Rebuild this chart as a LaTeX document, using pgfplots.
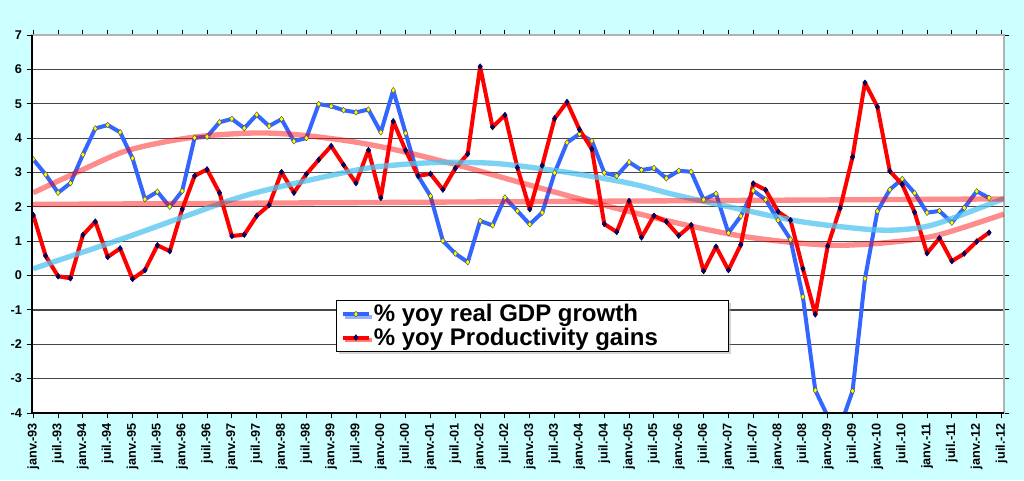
\documentclass[border=0pt]{standalone}
\usepackage{fontspec}
\setmainfont{Liberation Sans}
\usepackage{pgfplots}
\usepackage{pgfplotstable}
\pgfplotsset{compat=1.18}
\usetikzlibrary{shadows}
\definecolor{bgc}{RGB}{204,255,255}
\definecolor{gdpblue}{RGB}{51,102,255}
\definecolor{mkyellow}{RGB}{255,255,0}
\definecolor{mknavy}{RGB}{0,0,150}
\definecolor{trcyan}{RGB}{80,195,240}
\definecolor{gridc}{RGB}{70,70,70}

\pgfplotstableread{
x gdp prod
0 3.38 1.76
1 2.94 0.57
2 2.41 -0.02
3 2.69 -0.08
4 3.52 1.18
5 4.28 1.57
6 4.38 0.54
7 4.17 0.79
8 3.41 -0.10
9 2.22 0.16
10 2.44 0.88
11 2.00 0.71
12 2.46 1.93
13 4.01 2.90
14 4.04 3.09
15 4.46 2.41
16 4.56 1.15
17 4.29 1.19
18 4.68 1.74
19 4.35 2.05
20 4.55 3.01
21 3.91 2.41
22 4.00 2.95
23 4.99 3.37
24 4.93 3.77
25 4.81 3.22
26 4.75 2.69
27 4.83 3.65
28 4.17 2.26
29 5.39 4.49
30 4.14 3.64
31 2.90 2.90
32 2.31 2.96
33 1.01 2.50
34 0.64 3.12
35 0.39 3.54
36 1.59 6.08
37 1.46 4.32
38 2.27 4.67
39 1.88 3.14
40 1.49 1.93
41 1.83 3.20
42 2.99 4.57
43 3.87 5.05
44 4.12 4.25
45 3.92 3.68
46 2.99 1.50
47 2.90 1.27
48 3.30 2.17
49 3.07 1.11
50 3.13 1.74
51 2.83 1.57
52 3.05 1.16
53 3.02 1.47
54 2.21 0.13
55 2.38 0.84
56 1.24 0.16
57 1.73 0.90
58 2.47 2.68
59 2.21 2.49
60 1.61 1.86
61 1.05 1.61
62 -0.62 0.20
63 -3.34 -1.13
64 -4.10 0.86
65 -4.40 1.96
66 -3.36 3.45
67 -0.09 5.61
68 1.87 4.91
69 2.50 3.04
70 2.81 2.65
71 2.40 1.84
72 1.83 0.65
73 1.88 1.09
74 1.54 0.42
75 1.97 0.64
76 2.45 0.99
77 2.26 1.25
}\datatable

\pgfplotstableread{
x y
0 2.41
3.5 3.00
7.25 3.60
10.75 3.90
14 4.07
18.1 4.15
21.5 4.09
25.5 3.91
29.3 3.65
34.65 3.17
40 2.63
45.4 2.10
52.1 1.51
56.7 1.17
60.7 0.98
64.7 0.88
68.8 0.96
72.8 1.17
78.2 1.79
}\redtrend

\pgfplotstableread{
x y
0 0.20
7.1 1.06
12.2 1.72
17.6 2.38
25.9 3.06
29.3 3.22
32.8 3.29
37.3 3.26
42.7 3.02
48.1 2.68
51.7 2.35
56.7 1.95
62 1.56
67.4 1.34
70.1 1.34
72.8 1.51
78.2 2.24
}\cyantrend

\pgfplotstableread{
x y
0 2.07
78.2 2.23
}\flattrend

\begin{document}
\begin{tikzpicture}
\fill[bgc] (-24pt,-50.25pt) rectangle (744pt,309.75pt);
\begin{axis}[
  scale only axis, width=729pt, height=283.5pt,
  xmin=-0.1, xmax=78.2, ymin=-4, ymax=7,
  axis background/.style={fill=white},
  xtick={0,2,...,78},
  xticklabels={janv.-93,juil.-93,janv.-94,juil.-94,janv.-95,juil.-95,janv.-96,juil.-96,janv.-97,juil.-97,janv.-98,juil.-98,janv.-99,juil.-99,janv.-00,juil.-00,janv.-01,juil.-01,janv.-02,juil.-02,janv.-03,juil.-03,janv.-04,juil.-04,janv.-05,juil.-05,janv.-06,juil.-06,janv.-07,juil.-07,janv.-08,juil.-08,janv.-09,juil.-09,janv.-10,juil.-10,janv.-11,juil.-11,janv.-12,juil.-12},
  ytick={-4,-3,...,7},
  yticklabels={-4,-3,-2,-1,0,1,2,3,4,5,6,7},
  ymajorgrids, grid style={gridc, line width=0.9pt},
  axis line style={gray!60, line width=0.8pt},
  tick style={black, line width=0.75pt},
  tick align=outside, major tick length=4pt,
  x tick label style={rotate=90, anchor=east, font=\fontsize{9.5}{11}\selectfont\bfseries},
  y tick label style={font=\fontsize{9.5}{11}\selectfont\bfseries},
  legend style={at={(0.3128,0.162)}, anchor=south west, draw=black, line width=0.8pt,
    fill=white, font=\fontsize{18}{19}\selectfont\bfseries, inner xsep=3pt, inner ysep=1pt,
    row sep=-1pt, drop shadow={shadow xshift=2pt, shadow yshift=-2pt, fill=gray!70}},
  legend cell align=left,
  legend image code/.code={\draw[#1, mark repeat=2, mark phase=2] plot coordinates {(0pt,0pt) (10pt,0pt) (20pt,0pt)};},
  after end axis/.code={\draw[black, line width=0.8pt] (rel axis cs:0,1) -- (rel axis cs:0,0) -- (rel axis cs:1,0);},
]
\addplot[gdpblue, line width=3pt, line join=round, mark=diamond*, mark size=2.2pt,
  mark options={fill=mkyellow, draw=black!70, line width=0.3pt}] table[x=x, y=gdp] {\datatable};
\addlegendentry{\% yoy real GDP growth}
\addplot[red, line width=3pt, line join=round, mark=diamond*, mark size=2.2pt,
  mark options={fill=mknavy, draw=black, line width=0.3pt}] table[x=x, y=prod] {\datatable};
\addlegendentry{\% yoy Productivity gains\hspace*{48pt}}
\addplot[red, opacity=0.45, line width=4pt, smooth, forget plot] table {\redtrend};
\addplot[trcyan, opacity=0.75, line width=4pt, smooth, forget plot] table {\cyantrend};
\addplot[red, opacity=0.45, line width=4pt, forget plot] table {\flattrend};
\end{axis}
\pgfresetboundingbox
\path (-24pt,-50.25pt) rectangle (744pt,309.75pt);
\end{tikzpicture}
\end{document}
